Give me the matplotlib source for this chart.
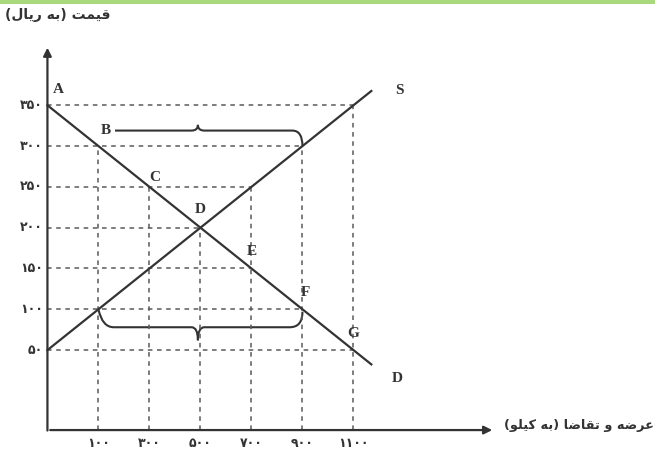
import numpy as np
import matplotlib.pyplot as plt
from matplotlib.path import Path
from matplotlib.patches import PathPatch

# data
quantity_ticks = [100, 300, 500, 700, 900, 1100]
price_ticks = [50, 100, 150, 200, 250, 300, 350]
demand_labels = ['A', 'B', 'C', 'D', 'E', 'F', 'G']
demand_q = [-100, 100, 300, 500, 700, 900, 1100, 1170]
demand_p = [350, 300, 250, 200, 150, 100, 50, 32.5]
supply_q = [-100, 100, 500, 900, 1170]
supply_p = [50, 100, 200, 300, 367.5]

ylabel = 'قیمت (به ریال)'
xlabel = 'عرضه و تقاضا (به کیلو)'

# minimal arabic/persian shaping (matplotlib does no shaping / bidi)
FORMS = {
    'ا': ('\uFE8D', '\uFE8E', None, None),
    'ب': ('\uFE8F', '\uFE90', '\uFE91', '\uFE92'),
    'ت': ('\uFE95', '\uFE96', '\uFE97', '\uFE98'),
    'ر': ('\uFEAD', '\uFEAE', None, None),
    'ض': ('\uFEBD', '\uFEBE', '\uFEBF', '\uFEC0'),
    'ع': ('\uFEC9', '\uFECA', '\uFECB', '\uFECC'),
    'ق': ('\uFED5', '\uFED6', '\uFED7', '\uFED8'),
    'ل': ('\uFEDD', '\uFEDE', '\uFEDF', '\uFEE0'),
    'م': ('\uFEE1', '\uFEE2', '\uFEE3', '\uFEE4'),
    'ه': ('\uFEE9', '\uFEEA', '\uFEEB', '\uFEEC'),
    'و': ('\uFEED', '\uFEEE', None, None),
    'ی': ('\uFBFC', '\uFBFD', '\uFBFE', '\uFBFF'),
    'ک': ('\uFB8E', '\uFB8F', '\uFB90', '\uFB91'),
}


def shape(s):
    out = []
    for i, c in enumerate(s):
        if c not in FORMS:
            out.append(c)
            continue
        f = FORMS[c]
        prev = s[i - 1] if i > 0 else ''
        nxt = s[i + 1] if i + 1 < len(s) else ''
        jp = prev in FORMS and FORMS[prev][2] is not None
        jn = nxt in FORMS and f[2] is not None
        if jp and jn:
            out.append(f[3])
        elif jp:
            out.append(f[1])
        elif jn:
            out.append(f[2])
        else:
            out.append(f[0])
    vis = ''.join(out)[::-1]
    return vis.translate(str.maketrans('()', ')('))


fa = str.maketrans('0123456789', '۰۱۲۳۴۵۶۷۸۹')

ink = '#333333'
dash = '#5a5a5a'

fig = plt.figure(figsize=(6.59, 4.57), dpi=100)
ax = fig.add_axes([0, 0, 1, 1])
ax.set_xlim(-286, 2298)
ax.set_ylim(-81, 479)
ax.axis('off')

# green strip at top of the scan
ax.axhspan(474, 479, xmin=0, xmax=0.994, color='#a9d97c', lw=0)

q0 = demand_q[0]
p_axis = -48

# axes with arrows
ax.annotate('', xy=(q0, 424), xytext=(q0, p_axis - 4),
            arrowprops=dict(arrowstyle='-|>', color=ink, lw=1.6, mutation_scale=12))
ax.annotate('', xy=(1655, p_axis), xytext=(q0, p_axis),
            arrowprops=dict(arrowstyle='-|>', color=ink, lw=1.6, mutation_scale=12))

# dashed guides
dq = np.array(demand_q[::-1])
dp = np.array(demand_p[::-1])
for p in price_ticks:
    qd = np.interp(p, dp, dq)
    qs = np.interp(p, supply_p, supply_q)
    ax.plot([q0, max(qd, qs)], [p, p], ls=(0, (3, 3)), color=dash, lw=1.1)
    ax.text(q0 - 18, p, str(p).translate(fa), ha='right', va='center',
            fontsize=9, fontweight='bold', color=ink, family='DejaVu Sans')
for q in quantity_ticks:
    top = max(np.interp(q, demand_q, demand_p), np.interp(q, supply_q, supply_p))
    ax.plot([q, q], [p_axis, top], ls=(0, (3, 3)), color=dash, lw=1.1)
    ax.text(q, p_axis - 17, str(q).translate(fa), ha='center', va='center',
            fontsize=9, fontweight='bold', color=ink, family='DejaVu Sans')

# supply and demand lines
ax.plot(demand_q, demand_p, color=ink, lw=1.6)
ax.plot(supply_q, supply_p, color=ink, lw=1.6)

# point labels
offs = [(8, 11), (5, 11), (4, 7), (0, 13), (0, 12), (2, 12), (0, 12)]
for lab, q, p, o in zip(demand_labels, demand_q, demand_p, offs):
    ax.annotate(lab, (q, p), xytext=o, textcoords='offset points', ha='center',
                va='center', fontsize=11, fontweight='bold', family='Liberation Serif',
                color=ink)
ax.annotate('S', (supply_q[-1], supply_p[-1]), xytext=(20, 0), textcoords='offset points',
            ha='center', va='center', fontsize=11, fontweight='bold',
            family='Liberation Serif', color=ink)
ax.annotate('D', (demand_q[-1], demand_p[-1]), xytext=(19, -10), textcoords='offset points',
            ha='center', va='center', fontsize=11, fontweight='bold',
            family='Liberation Serif', color=ink)

# braces between B and supply at 300, and between supply at 100 and F
qb, pb = demand_q[1], demand_p[1]
qf, pf = demand_q[5], demand_p[5]
mid = (qb + qf) / 2 - 10
top_y = pb + 19
verts = [(qb + 65, top_y), (mid - 25, top_y), (mid, top_y), (mid, top_y + 7),
         (mid, top_y), (mid + 25, top_y), (qf - 40, top_y), (qf, top_y), (qf, pb)]
codes = [Path.MOVETO, Path.LINETO, Path.CURVE3, Path.CURVE3, Path.CURVE3, Path.CURVE3,
         Path.LINETO, Path.CURVE3, Path.CURVE3]
ax.add_patch(PathPatch(Path(verts, codes), fill=False, color=ink, lw=1.5))

bot_y = pf - 22
verts = [(qb, pf), (qb + 15, bot_y), (qb + 60, bot_y), (mid - 25, bot_y), (mid, bot_y),
         (mid, bot_y - 16), (mid, bot_y), (mid + 25, bot_y), (qf - 50, bot_y),
         (qf, bot_y), (qf, pf - 3)]
codes = [Path.MOVETO, Path.CURVE3, Path.CURVE3, Path.LINETO, Path.CURVE3, Path.CURVE3,
         Path.CURVE3, Path.CURVE3, Path.LINETO, Path.CURVE3, Path.CURVE3]
ax.add_patch(PathPatch(Path(verts, codes), fill=False, color=ink, lw=1.5))

# axis titles (persian)
ax.text(-268, 461, shape(ylabel), ha='left', va='center', fontsize=10,
        fontweight='bold', color=ink, family='DejaVu Sans')
ax.text(1692, -42, shape(xlabel), ha='left', va='center', fontsize=9.3,
        fontweight='bold', color=ink, family='DejaVu Sans')

fig.savefig('out.png', dpi=100)
